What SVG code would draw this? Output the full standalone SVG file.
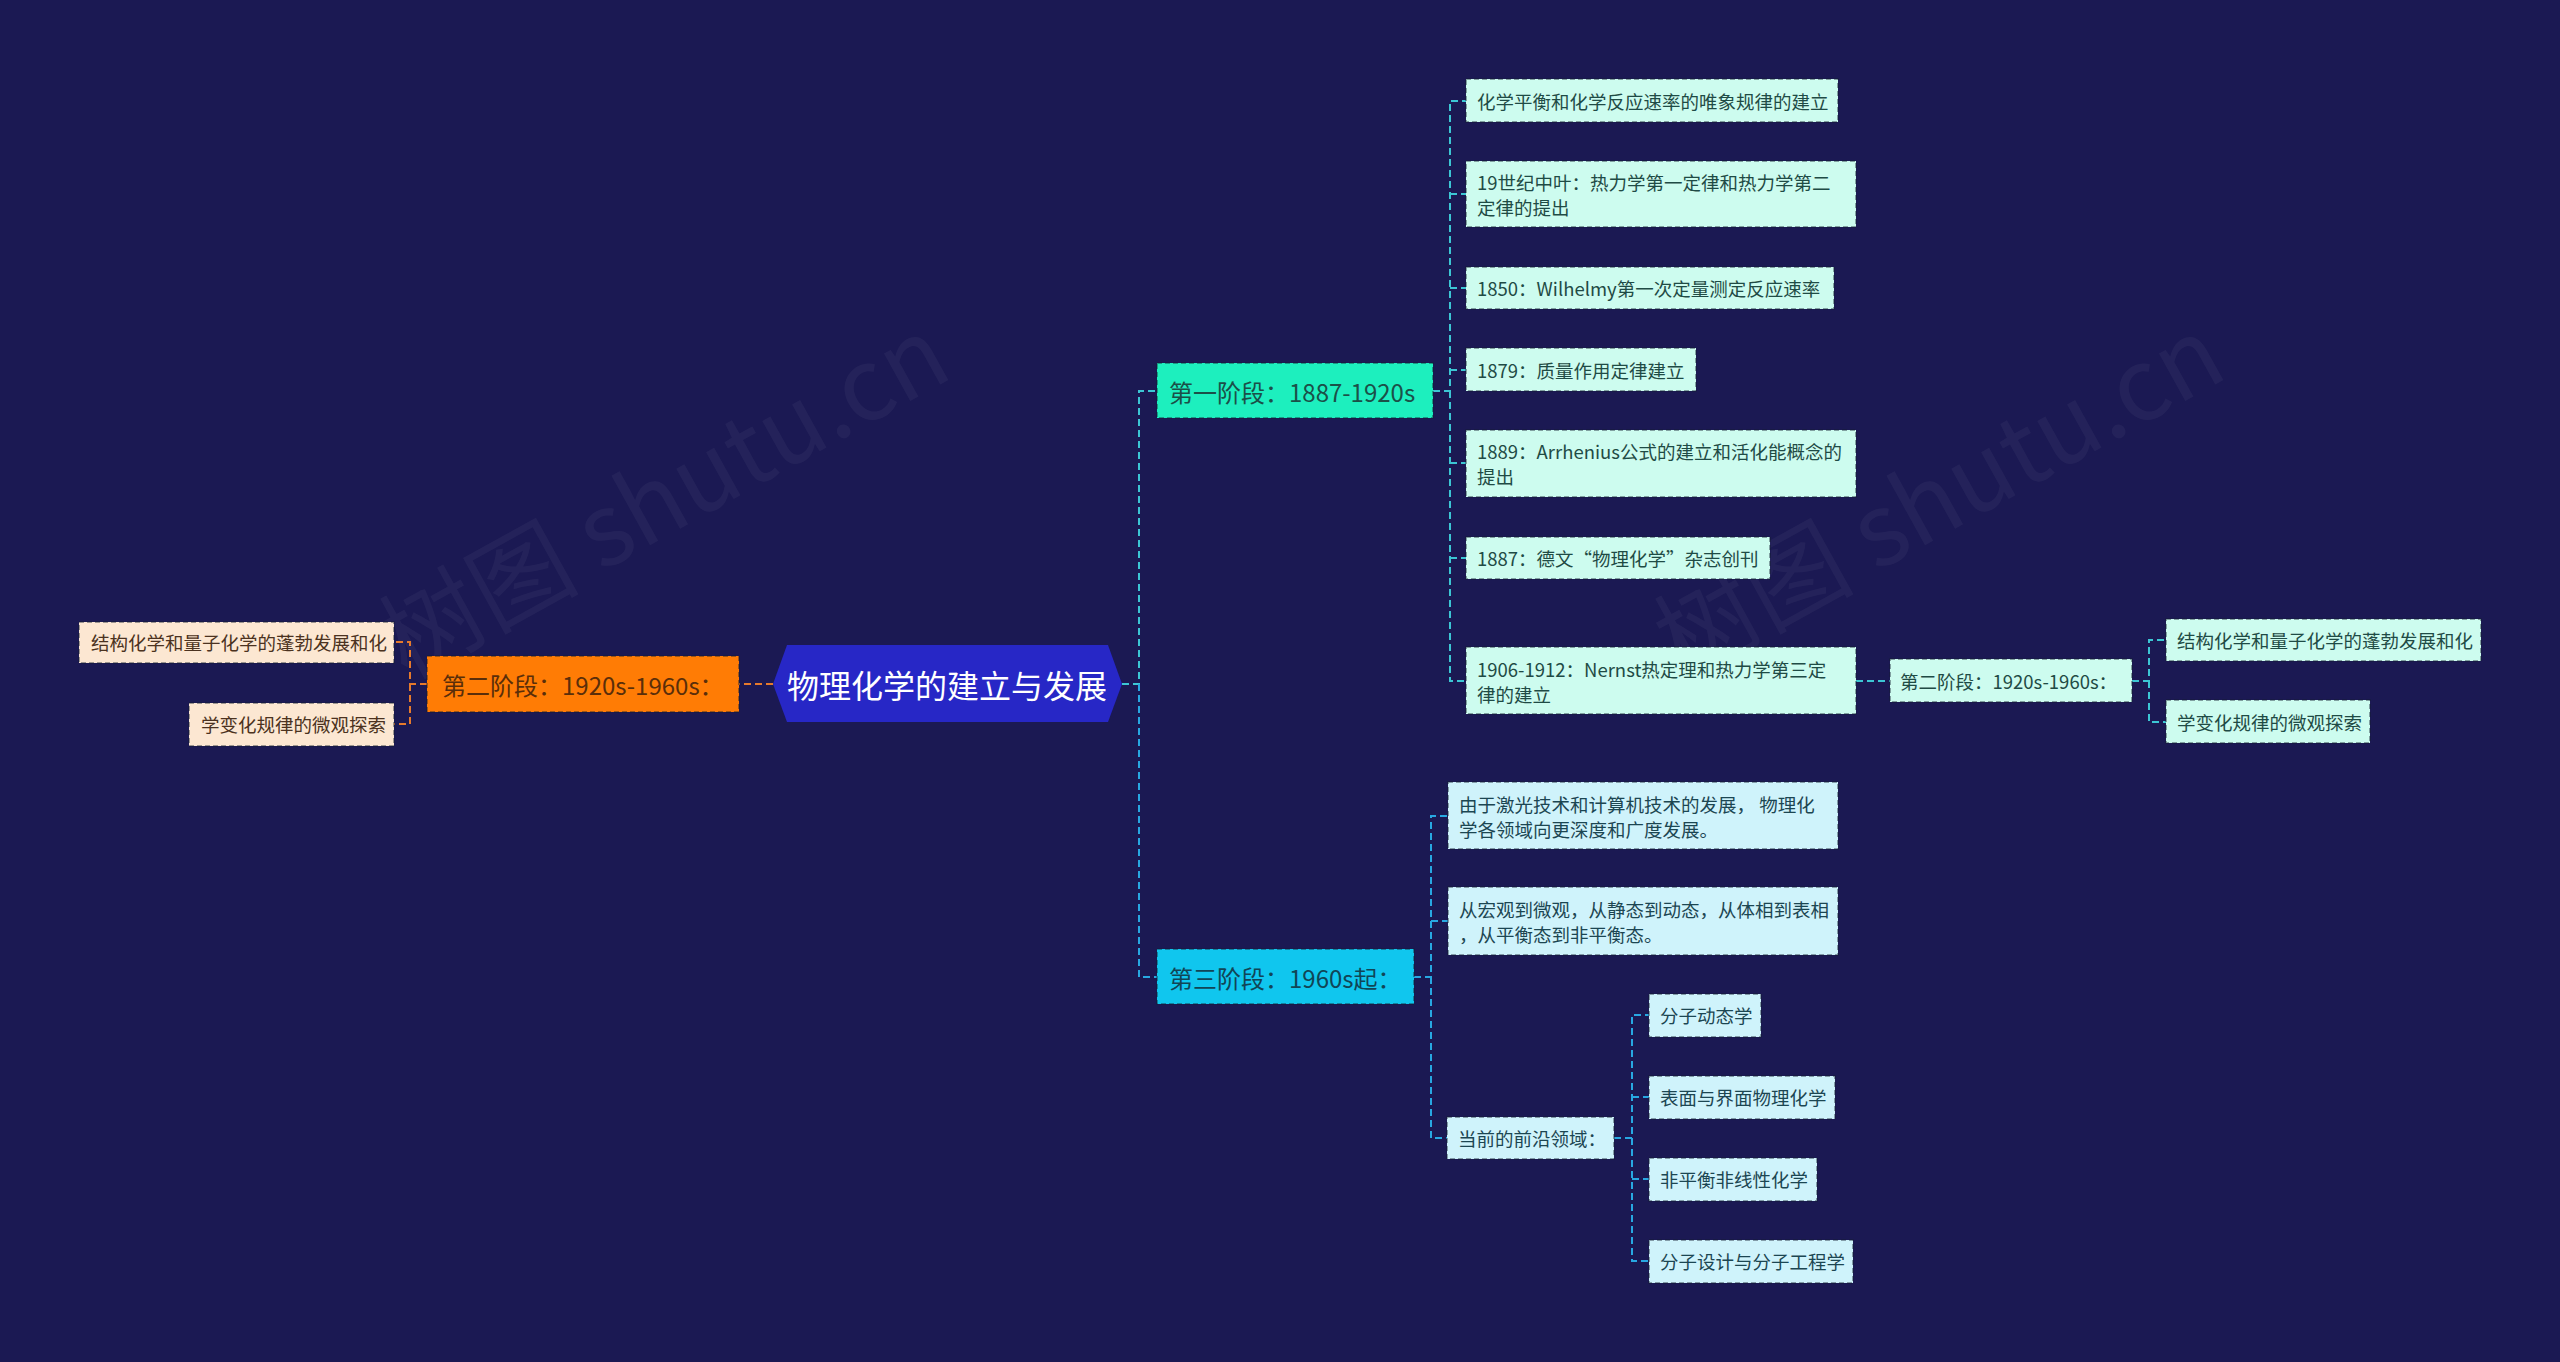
<svg xmlns="http://www.w3.org/2000/svg" width="2560" height="1362" viewBox="0 0 2560 1362">
<style>
text{font-family:"Noto Sans CJK SC","Noto Sans",sans-serif;dominant-baseline:central}
.ln{fill:none;stroke-width:2;stroke-dasharray:7 4}
.t1{stroke:#3CC6D4}
.t3{stroke:#28A8E2}
.to{stroke:#E67A2C}
.box{stroke:rgba(20,30,50,0.55);stroke-width:1.5;stroke-dasharray:5 3}
.m{fill:#CDFCEF}
.c{fill:#CFF3FB}
.p{fill:#FCE7D2}
.lt{font-size:18.5px;fill:#1F4B45}
.ct{font-size:18.5px;fill:#1C4652}
.pt{font-size:18.5px;fill:#4B3220}
.wm{font-size:100px;fill:#ffffff;fill-opacity:0.045;font-family:"Noto Sans CJK SC",sans-serif}
</style>
<rect width="2560" height="1362" fill="#1B1953"/>
<text class="wm" transform="translate(660,490) rotate(-29)" text-anchor="middle">树图 shutu.cn</text>
<text class="wm" transform="translate(1935,490) rotate(-29)" text-anchor="middle">树图 shutu.cn</text>
<g id="connectors">
<path class="ln t1" d="M1122,684 H1139 V391 H1157"/>
<path class="ln t3" d="M1139,684 V977 H1157"/>
<path class="ln to" d="M773,684 H739"/>
<path class="ln to" d="M427,684 H410 V642 H394 M410,684 V724 H394"/>
<path class="ln t1" d="M1433,391 H1450 V101 H1466 M1450,194 H1466 M1450,288 H1466 M1450,370 H1466 M1450,463 H1466 M1450,558 H1466 M1450,391 V681 H1466"/>
<path class="ln t1" d="M1856,681 H1890"/>
<path class="ln t1" d="M2132,681 H2149 V640 H2166 M2149,681 V722 H2166"/>
<path class="ln t3" d="M1414,977 H1431 V816 H1448 M1431,921 H1448 M1431,977 V1138 H1447"/>
<path class="ln t3" d="M1614,1138 H1632 V1015 H1649 M1632,1097 H1649 M1632,1138 V1261 H1649 M1632,1179 H1649"/>
</g>
<g id="root">
<polygon points="773,684 787,645 1108,645 1122,684 1108,722 787,722" fill="#2727C6"/>
<text x="947" y="684" text-anchor="middle" font-size="32" fill="#ffffff">物理化学的建立与发展</text>
</g>
<g id="stage1">
<rect class="box" x="1157" y="363" width="276" height="55" fill="#1DEFBE"/>
<text x="1169" y="391" font-size="24" fill="#1B5048">第一阶段：1887-1920s</text>
</g>
<g id="stage3">
<rect class="box" x="1157" y="949" width="257" height="55" fill="#10C6EE"/>
<text x="1169" y="977" font-size="24" fill="#114556">第三阶段：1960s起：</text>
</g>
<g id="stage2">
<rect class="box" x="427" y="656" width="312" height="56" fill="#FF7C05"/>
<text x="442" y="684" font-size="24" fill="#5A2E0A">第二阶段：1920s-1960s：</text>
</g>
<g id="s2a"><rect class="box p" x="79" y="622" width="315" height="41"/><text class="pt" x="91" y="642">结构化学和量子化学的蓬勃发展和化</text></g>
<g id="s2b"><rect class="box p" x="189" y="703" width="205" height="43"/><text class="pt" x="201" y="724">学变化规律的微观探索</text></g>
<g id="s1a"><rect class="box m" x="1466" y="79" width="372" height="43"/><text class="lt" x="1477" y="101">化学平衡和化学反应速率的唯象规律的建立</text></g>
<g id="s1b"><rect class="box m" x="1466" y="161" width="390" height="66"/><text class="lt" x="1477" y="182">19世纪中叶：热力学第一定律和热力学第二</text><text class="lt" x="1477" y="207">定律的提出</text></g>
<g id="s1c"><rect class="box m" x="1466" y="267" width="368" height="42"/><text class="lt" x="1477" y="288">1850：Wilhelmy第一次定量测定反应速率</text></g>
<g id="s1d"><rect class="box m" x="1466" y="348" width="230" height="43"/><text class="lt" x="1477" y="370">1879：质量作用定律建立</text></g>
<g id="s1e"><rect class="box m" x="1466" y="430" width="390" height="67"/><text class="lt" x="1477" y="451">1889：Arrhenius公式的建立和活化能概念的</text><text class="lt" x="1477" y="476">提出</text></g>
<g id="s1f"><rect class="box m" x="1466" y="537" width="304" height="42"/><text class="lt" x="1477" y="558">1887：德文“物理化学”杂志创刊</text></g>
<g id="s1g"><rect class="box m" x="1466" y="647" width="390" height="67"/><text class="lt" x="1477" y="669">1906-1912：Nernst热定理和热力学第三定</text><text class="lt" x="1477" y="694">律的建立</text></g>
<g id="s1g1"><rect class="box m" x="1890" y="659" width="242" height="43"/><text class="lt" x="1900" y="681">第二阶段：1920s-1960s：</text></g>
<g id="s1g1a"><rect class="box m" x="2166" y="619" width="315" height="42"/><text class="lt" x="2177" y="640">结构化学和量子化学的蓬勃发展和化</text></g>
<g id="s1g1b"><rect class="box m" x="2166" y="700" width="204" height="43"/><text class="lt" x="2177" y="722">学变化规律的微观探索</text></g>
<g id="s3a"><rect class="box c" x="1448" y="782" width="390" height="67"/><text class="ct" x="1459" y="804">由于激光技术和计算机技术的发展， 物理化</text><text class="ct" x="1459" y="829">学各领域向更深度和广度发展。</text></g>
<g id="s3b"><rect class="box c" x="1448" y="887" width="390" height="68"/><text class="ct" x="1459" y="909">从宏观到微观，从静态到动态，从体相到表相</text><text class="ct" x="1459" y="934">，从平衡态到非平衡态。</text></g>
<g id="s3c"><rect class="box c" x="1447" y="1117" width="167" height="42"/><text class="ct" x="1458" y="1138">当前的前沿领域：</text></g>
<g id="s3c1"><rect class="box c" x="1649" y="994" width="112" height="43"/><text class="ct" x="1660" y="1015">分子动态学</text></g>
<g id="s3c2"><rect class="box c" x="1649" y="1076" width="186" height="43"/><text class="ct" x="1660" y="1097">表面与界面物理化学</text></g>
<g id="s3c3"><rect class="box c" x="1649" y="1158" width="168" height="43"/><text class="ct" x="1660" y="1179">非平衡非线性化学</text></g>
<g id="s3c4"><rect class="box c" x="1649" y="1240" width="204" height="43"/><text class="ct" x="1660" y="1261">分子设计与分子工程学</text></g>
</svg>
